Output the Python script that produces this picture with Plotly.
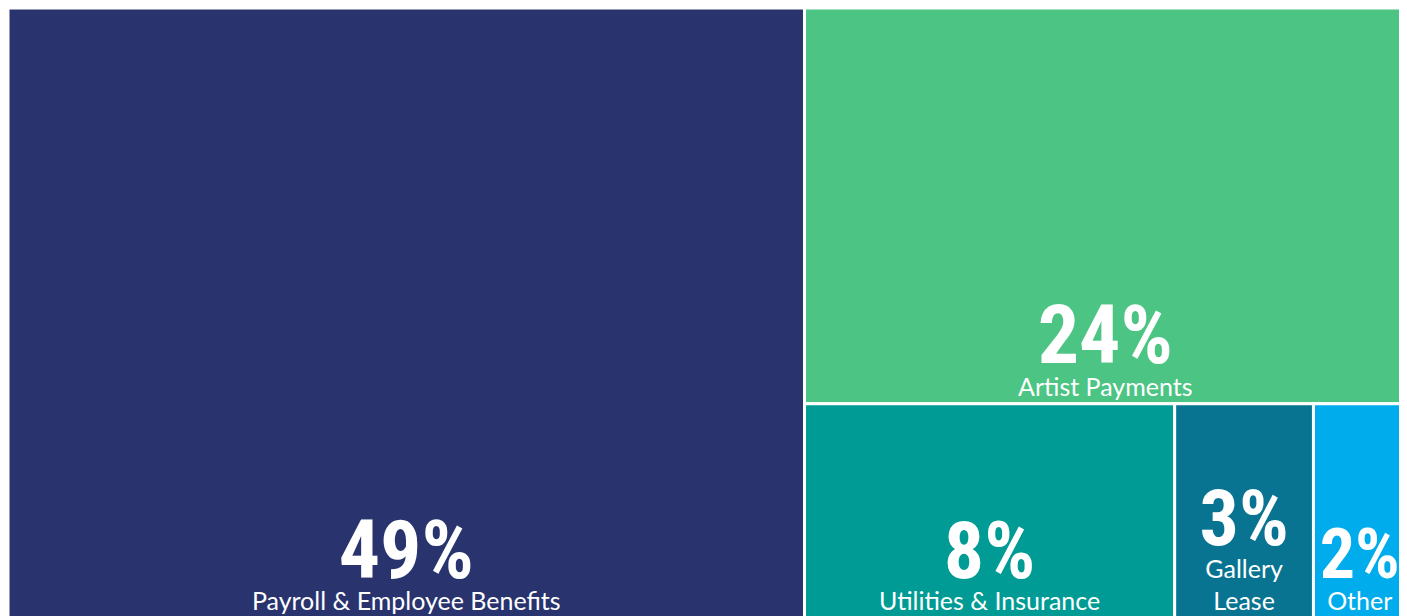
import plotly.graph_objects as go

labels = ["Payroll & Employee Benefits", "Artist Payments", "Utilities & Insurance", "Gallery Lease", "Other"]
display_names = ["Payroll & Employee Benefits", "Artist Payments", "Utilities & Insurance", "Gallery<br>Lease", "Other"]
values = [49, 24, 8, 3, 2]
colors = ["#29346F", "#4CC483", "#009B94", "#097492", "#00ACEC"]
pct_sizes = [82, 82, 80, 78, 70]

pct_font = ("'Roboto Condensed','Noto Sans Condensed','Noto Sans ExtraCondensed',"
            "'Open Sans Condensed','Liberation Sans Narrow','DejaVu Sans Condensed'")
texts = [
    f"<span style=\"font-family:{pct_font};font-stretch:condensed;font-size:{s}px;font-weight:bold\">{v}%</span><br>{n}"
    for v, n, s in zip(values, display_names, pct_sizes)
]

fig = go.Figure(go.Treemap(
    labels=labels,
    parents=[""] * len(labels),
    values=values,
    text=texts,
    textinfo="text",
    texttemplate="%{text}",
    textposition="bottom center",
    marker=dict(colors=colors, line=dict(color="white", width=3),
                pad=dict(t=0, l=0, r=0, b=0)),
    pathbar=dict(visible=False),
    textfont=dict(family="Lato", size=25, color="white"),
    hoverinfo="label+value",
    sort=True,
    tiling=dict(packing="binary", pad=0),
))

fig.update_layout(
    width=1398, height=610,
    margin=dict(l=0, r=0, t=0, b=0),
    paper_bgcolor="white",
    plot_bgcolor="white",
    showlegend=False,
)

fig.write_html("out.html")
